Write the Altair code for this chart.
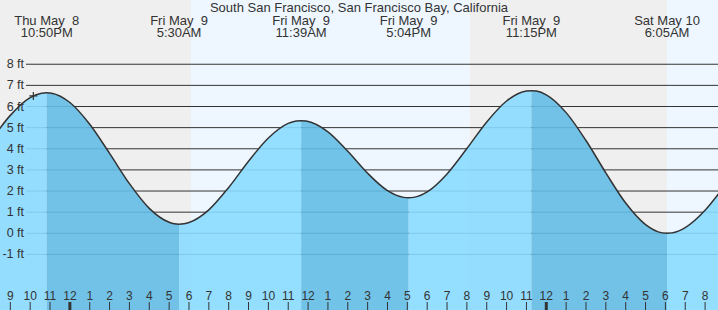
import altair as alt
import pandas as pd

TITLE = "South San Francisco, San Francisco Bay, California"

# Tide heights (ft), hours counted from Thu May 8 00:00
hours = [20, 21, 22, 22.583, 22.8333, 23.083, 24, 25, 26, 27, 28, 29, 29.25, 29.5,
         29.75, 30, 31, 32, 33, 34, 35, 35.4, 35.65, 35.9, 37, 38, 39, 40, 40.817,
         41.0667, 41.317, 42, 43, 44, 45, 46, 47, 47.25, 47.5, 48, 49, 50, 51, 52,
         53, 53.833, 54.0833, 54.333, 55, 56, 57]
heights = [4.36, 5.58, 6.42, 6.63, 6.65, 6.63, 6.19, 5.16, 3.78, 2.35, 1.18, 0.52, 0.45, 0.43,
           0.45, 0.51, 1.11, 2.17, 3.41, 4.51, 5.20, 5.31, 5.33, 5.31, 4.80, 3.88, 2.84, 2.02, 1.70,
           1.68, 1.70, 1.96, 2.81, 4.01, 5.27, 6.26, 6.73, 6.75, 6.73, 6.55, 5.71, 4.39, 2.86, 1.43,
           0.41, 0.02, 0.00, 0.02, 0.27, 1.09, 2.27]

# High / low tide events
extreme_hours = [22.8333, 29.5, 35.65, 41.0667, 47.25, 54.0833]
extreme_dates = ["Thu May\u00a0 8", "Fri May\u00a0 9", "Fri May\u00a0 9", "Fri May\u00a0 9",
                 "Fri May\u00a0 9", "Sat May 10"]
extreme_times = ["10:50PM", "5:30AM", "11:39AM", "5:04PM", "11:15PM", "6:05AM"]

# Night / day background bands
band_starts = [20.0, 30.1, 44.1333, 54.0833]
band_ends = [30.1, 44.1333, 54.0833, 57.0]
band_kinds = ["night", "day", "night", "day"]

# Axis labels
ft_levels = [-1, 0, 1, 2, 3, 4, 5, 6, 7, 8]
ft_labels = [f"{v} ft" for v in ft_levels]
tick_hours = list(range(21, 57))
tick_labels = [str(h % 12 or 12) for h in tick_hours]

# current-time marker
now_hour = [22.16]
now_height = [6.50]

X_DOMAIN = [20.48, 56.65]
Y_DOMAIN = [-3.63, 11.04]
W, H = 718, 310
FONT = "Liberation Sans"
TXT = "#333333"

xs = alt.Scale(domain=X_DOMAIN, nice=False, zero=False)
ys = alt.Scale(domain=Y_DOMAIN, nice=False, zero=False)

# build tables
curve = pd.DataFrame({"h": hours, "ft": heights})
bounds = [-1e9] + extreme_hours + [1e9]
rows = []
for i in range(len(bounds) - 1):
    lo, hi = bounds[i], bounds[i + 1]
    phase = "rising" if i % 2 == 0 else "falling"
    for h, v in zip(hours, heights):
        if lo <= h <= hi:
            rows.append({"h": h, "ft": v, "base": Y_DOMAIN[0], "seg": i, "phase": phase})
segs = pd.DataFrame(rows)

bands = pd.DataFrame({"s": band_starts, "e": band_ends, "kind": band_kinds})
grid = pd.DataFrame({"ft": ft_levels, "label": ft_labels})
ticks = pd.DataFrame({"h": tick_hours, "label": tick_labels,
                      "w": [3 if h % 24 == 0 else 1 for h in tick_hours]})
events = pd.DataFrame({"h": extreme_hours, "date": extreme_dates, "time": extreme_times})
now = pd.DataFrame({"h": now_hour, "ft": now_height})
title_df = pd.DataFrame({"t": [TITLE]})

bg = alt.Chart(bands).mark_rect(clip=True).encode(
    x=alt.X("s:Q", scale=xs, axis=None), x2="e:Q",
    y=alt.value(0), y2=alt.value(H),
    color=alt.Color("kind:N", scale=alt.Scale(domain=["night", "day"],
                                              range=["#efefef", "#eef7ff"]), legend=None),
)

gridlines = alt.Chart(grid).mark_rule(color="#333333", strokeWidth=1).encode(
    y=alt.Y("ft:Q", scale=ys, axis=None), x=alt.value(26), x2=alt.value(W),
)

water = alt.Chart(segs).mark_area(interpolate="monotone", opacity=0.9, clip=True).encode(
    x=alt.X("h:Q", scale=xs, axis=None),
    y=alt.Y("ft:Q", scale=ys, axis=None, stack=None),
    y2="base:Q",
    detail="seg:N",
    color=alt.Color("phase:N", scale=alt.Scale(domain=["rising", "falling"],
                                               range=["#8adaff", "#64bce5"]), legend=None),
)

line = alt.Chart(curve).mark_line(interpolate="monotone", color="#333333",
                                  strokeWidth=1.5, clip=True).encode(
    x=alt.X("h:Q", scale=xs, axis=None), y=alt.Y("ft:Q", scale=ys, axis=None),
)

ylabels = alt.Chart(grid).mark_text(align="right", baseline="middle", font=FONT,
                                    fontSize=12.5, color=TXT).encode(
    y=alt.Y("ft:Q", scale=ys, axis=None), x=alt.value(24), text="label:N",
)

xlabels = alt.Chart(ticks).mark_text(align="center", baseline="alphabetic", font=FONT,
                                     fontSize=12, color=TXT).encode(
    x=alt.X("h:Q", scale=xs, axis=None), y=alt.value(300), text="label:N",
)

tickmarks = alt.Chart(ticks).mark_rule(color="#333333").encode(
    x=alt.X("h:Q", scale=xs, axis=None), y=alt.value(302), y2=alt.value(H),
    strokeWidth=alt.StrokeWidth("w:Q", scale=None),
)

hdr_date = alt.Chart(events).mark_text(align="center", baseline="alphabetic", font=FONT,
                                       fontSize=13, color=TXT).encode(
    x=alt.X("h:Q", scale=xs, axis=None), y=alt.value(24.5), text="date:N",
)
hdr_time = alt.Chart(events).mark_text(align="center", baseline="alphabetic", font=FONT,
                                       fontSize=13, color=TXT).encode(
    x=alt.X("h:Q", scale=xs, axis=None), y=alt.value(36.5), text="time:N",
)

title = alt.Chart(title_df).mark_text(align="center", baseline="alphabetic", font=FONT,
                                      fontSize=13, color=TXT).encode(
    x=alt.value(W / 2), y=alt.value(11.5), text="t:N",
)

marker = alt.Chart(now).mark_point(shape="M-1,0L1,0M0,-1L0,1", filled=False, size=64,
                                   color="#333333", strokeWidth=1.2, opacity=1).encode(
    x=alt.X("h:Q", scale=xs, axis=None), y=alt.Y("ft:Q", scale=ys, axis=None),
)

chart = alt.layer(bg, gridlines, water, line, ylabels, xlabels, tickmarks,
                  hdr_date, hdr_time, title, marker).resolve_scale(
    color="independent"
).properties(
    width=W, height=H, padding=0,
    autosize=alt.AutoSizeParams(type="none"),
).configure_view(stroke=None)

chart.save("out.html", embed_options={"renderer": "svg", "actions": False})
